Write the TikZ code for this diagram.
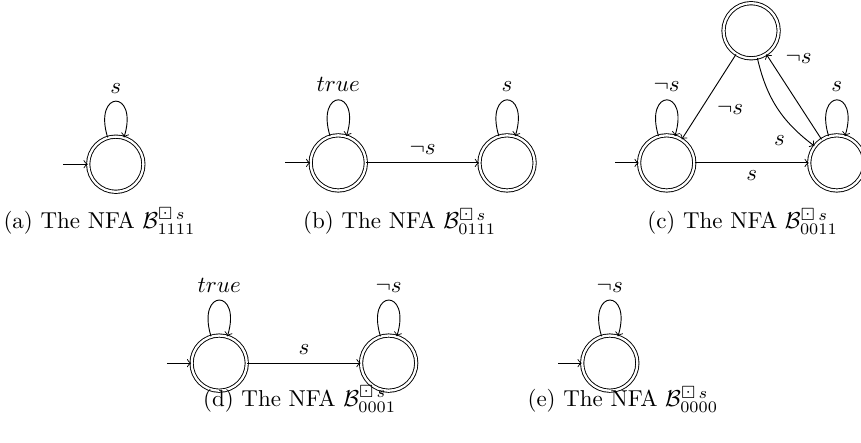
\documentclass[tikz,border=0pt]{standalone}
\usepackage{amsmath}
\usepackage{amssymb}
\usepackage{tikz}

\begin{document}
\begin{tikzpicture}[state/.style={shape=circle,draw=black,double,double distance=1pt,minimum size=24pt,inner sep=0pt},
		selfloop/.style={controls=+(107:0.77) and +(73:0.77)}]
		\useasboundingbox (0,0) rectangle (13.16,6.77);
		% (a)
		\node [state] (A1) at (1.77,4.26) {};
		\coordinate (A0) at (0.97,4.26);
		\draw [->] (A0) -- (A1);
		\draw [->] (A1.107) to [selfloop] node [above] {$s$} (A1.73);
		\node [anchor=base] (capA) at (1.52,3.28) {(a) The NFA $\mathcal{B}^{\boxdot\,s}_{1111}$};
		% (b)
		\node [state] (B1) at (5.17,4.28) {};
		\node [state] (B2) at (7.75,4.28) {};
		\coordinate (B0) at (4.36,4.28);
		\draw [->] (B0) -- (B1);
		\draw [->] (B1.107) to [selfloop] node [above] {$true$} (B1.73);
		\draw [->] (B2.107) to [selfloop] node [above] {$s$} (B2.73);
		\draw [->] (B1) -- node [above] {$\neg s$} (B2);
		\node [anchor=base] (capB) at (6.11,3.27) {(b) The NFA $\mathcal{B}^{\boxdot\,s}_{0111}$};
		% (c)
		\node [state] (C1) at (10.19,4.28) {};
		\node [state] (C2) at (12.79,4.28) {};
		\node [state] (C3) at (11.48,6.30) {};
		\coordinate (C0) at (9.40,4.28);
		\draw [->] (C0) -- (C1);
		\draw [->] (C1.107) to [selfloop] node [above] {$\neg s$} (C1.73);
		\draw [->] (C2.107) to [selfloop] node [above] {$s$} (C2.73);
		\draw [->] (C1) -- node [below] {$s$} (C2);
		\draw [->] (C3) -- node [below right] {$\neg s$} (C1);
		\draw [->] (C3) to [bend right=20] node [pos=0.75,below left] {$s$} (C2);
		\draw [->] (C2) -- node [pos=0.8,above right] {$\neg s$} (C3);
		\node [anchor=base] (capC) at (11.35,3.27) {(c) The NFA $\mathcal{B}^{\boxdot\,s}_{0011}$};
		% (d)
		\node [state] (D1) at (3.35,1.22) {};
		\node [state] (D2) at (5.94,1.22) {};
		\coordinate (D0) at (2.55,1.22);
		\draw [->] (D0) -- (D1);
		\draw [->] (D1.107) to [selfloop] node [above] {$true$} (D1.73);
		\draw [->] (D2.107) to [selfloop] node [above] {$\neg s$} (D2.73);
		\draw [->] (D1) -- node [above] {$s$} (D2);
		\node [anchor=base] (capD) at (4.58,0.56) {(d) The NFA $\mathcal{B}^{\boxdot\,s}_{0001}$};
		% (e)
		\node [state] (E1) at (9.32,1.22) {};
		\coordinate (E0) at (8.53,1.22);
		\draw [->] (E0) -- (E1);
		\draw [->] (E1.107) to [selfloop] node [above] {$\neg s$} (E1.73);
		\node [anchor=base] (capE) at (9.52,0.55) {(e) The NFA $\mathcal{B}^{\boxdot\,s}_{0000}$};
	\end{tikzpicture}
\end{document}
